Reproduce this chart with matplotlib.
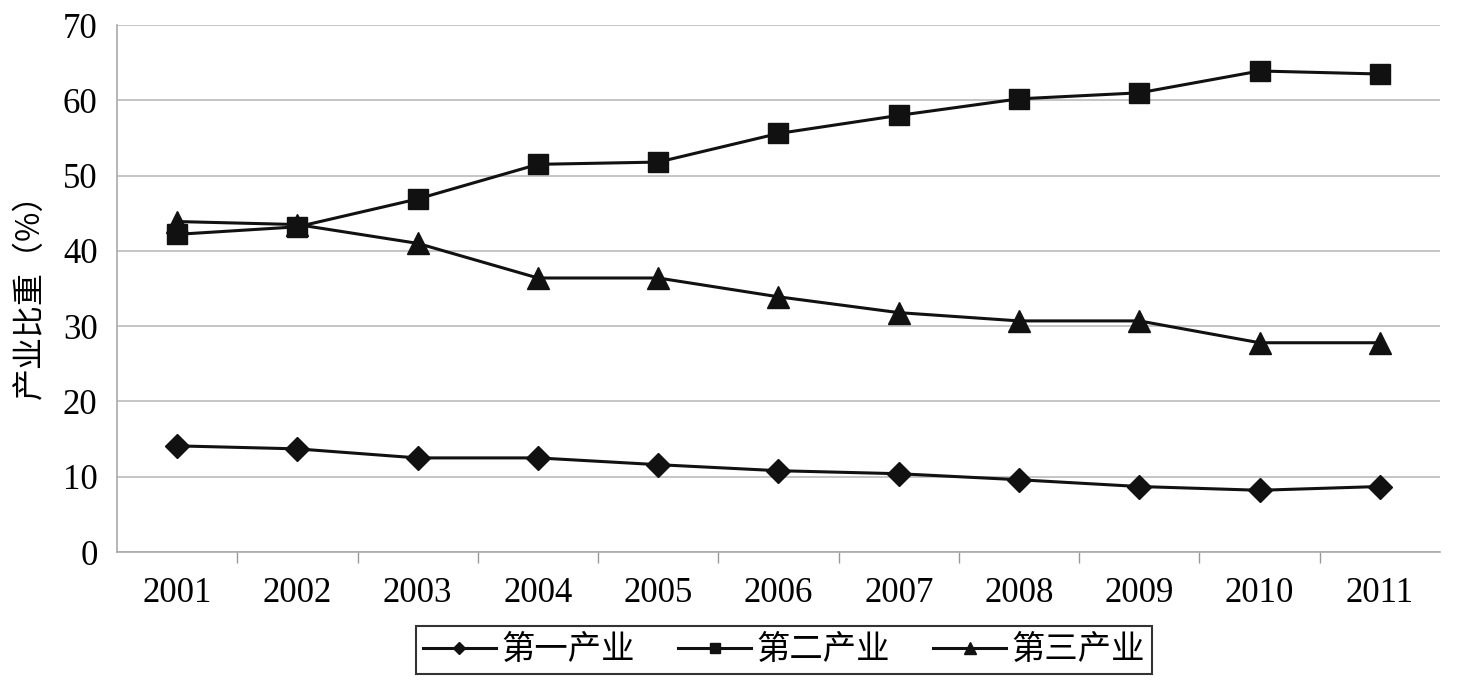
import numpy as np
from matplotlib import pyplot as plt

plt.rcParams['font.family'] = ['Liberation Serif', 'Noto Sans CJK SC', 'DejaVu Sans']

years = ['2001', '2002', '2003', '2004', '2005', '2006', '2007', '2008', '2009', '2010', '2011']
primary = [14.1, 13.7, 12.5, 12.5, 11.6, 10.8, 10.4, 9.6, 8.7, 8.2, 8.7]
secondary = [42.2, 43.2, 46.9, 51.5, 51.8, 55.6, 58.0, 60.2, 61.0, 63.9, 63.5]
tertiary = [43.9, 43.5, 41.0, 36.4, 36.4, 33.9, 31.8, 30.7, 30.7, 27.8, 27.8]
series_names = ['第一产业', '第二产业', '第三产业']

fig = plt.figure(figsize=(14.64, 6.87), dpi=100)
ax = fig.add_axes([0.0799, 0.1965, 0.9037, 0.767])

x = np.arange(len(years))
ax.plot(x, primary, color='#111111', lw=2.2, marker='D', ms=12, label=series_names[0])
ax.plot(x, secondary, color='#111111', lw=2.2, marker='s', ms=14, label=series_names[1])
ax.plot(x, tertiary, color='#111111', lw=2.2, marker='^', ms=16, label=series_names[2])

ax.set_xlim(-0.5, len(years) - 0.5)
ax.set_ylim(0, 70)
ax.set_yticks(np.arange(0, 71, 10))
ax.set_xticks(x)
ax.set_xticklabels(years)
ax.set_xticks(np.arange(0.5, len(years) - 1, 1), minor=True)
ax.tick_params(axis='x', which='major', length=0, pad=18, labelsize=25)
ax.tick_params(axis='x', which='minor', length=8, color='#999999', width=1)
ax.tick_params(axis='y', length=0, pad=14, labelsize=25)
ax.grid(axis='y', color='#bbbbbb', lw=1.2)
ax.set_axisbelow(True)
for s in ['top', 'right']:
    ax.spines[s].set_visible(False)
for s in ['left', 'bottom']:
    ax.spines[s].set_color('#aaaaaa')
    ax.spines[s].set_linewidth(1.2)

ax.set_ylabel('产业比重（%）', family=['Noto Sans CJK SC', 'DejaVu Sans'], fontsize=23, labelpad=12)

leg = ax.legend(loc='upper center', bbox_to_anchor=(0.504, -0.14), ncol=3, frameon=True,
                fancybox=False, edgecolor='black', markerscale=0.55, handlelength=2.2,
                columnspacing=1.3, handletextpad=0.15, borderpad=0.2, borderaxespad=0,
                prop={'family': ['Noto Sans CJK SC', 'DejaVu Sans'], 'size': 24})
leg.get_frame().set_linewidth(1.5)

fig.savefig('out.png', dpi=100)
